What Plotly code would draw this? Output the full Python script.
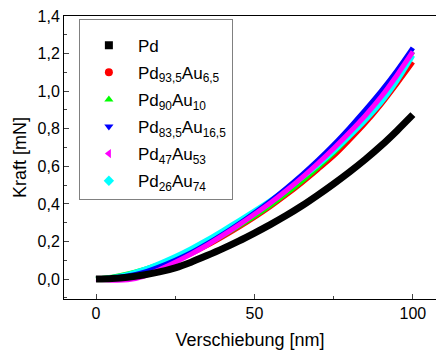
import plotly.graph_objects as go

x = [0, 5, 10, 15, 20, 25, 30, 35, 40, 45, 50, 55, 60, 65, 70, 75, 80, 85, 90, 95, 100]

pd_ = [0, 0.003, 0.01, 0.022, 0.038, 0.06, 0.09, 0.125, 0.162, 0.202, 0.245, 0.29, 0.338, 0.39, 0.447, 0.507, 0.57, 0.637, 0.71, 0.79, 0.875]
pd935 = [0, 0.006, 0.02, 0.042, 0.07, 0.1, 0.135, 0.178, 0.225, 0.275, 0.328, 0.385, 0.447, 0.513, 0.583, 0.655, 0.74, 0.83, 0.93, 1.04, 1.155]
pd90 = [0, 0.01, 0.027, 0.05, 0.078, 0.108, 0.143, 0.185, 0.232, 0.282, 0.335, 0.392, 0.455, 0.522, 0.595, 0.672, 0.76, 0.855, 0.96, 1.08, 1.21]
pd835 = [0, 0.004, 0.016, 0.036, 0.065, 0.1, 0.14, 0.187, 0.238, 0.293, 0.352, 0.415, 0.483, 0.555, 0.632, 0.715, 0.805, 0.9, 1.0, 1.11, 1.23]
pd47 = [0, -0.006, -0.004, 0.015, 0.05, 0.09, 0.133, 0.18, 0.232, 0.287, 0.345, 0.405, 0.47, 0.54, 0.615, 0.695, 0.78, 0.87, 0.97, 1.085, 1.21]
pd26 = [0, 0.008, 0.025, 0.05, 0.083, 0.12, 0.162, 0.208, 0.258, 0.31, 0.363, 0.418, 0.477, 0.54, 0.607, 0.68, 0.76, 0.845, 0.94, 1.055, 1.19]

names = ["Pd", "Pd<sub>93,5</sub>Au<sub>6,5</sub>", "Pd<sub>90</sub>Au<sub>10</sub>",
         "Pd<sub>83,5</sub>Au<sub>16,5</sub>", "Pd<sub>47</sub>Au<sub>53</sub>", "Pd<sub>26</sub>Au<sub>74</sub>"]
series = [pd_, pd935, pd90, pd835, pd47, pd26]
colors = ["#000000", "#ff0000", "#00ff00", "#0000ff", "#ff00ff", "#00ffff"]
symbols = ["square", "circle", "triangle-up", "triangle-down", "triangle-left", "diamond"]
widths = [7, 5, 5, 5, 5, 5]
draw_order = [1, 2, 5, 3, 4, 0]

fig = go.Figure()
for i in draw_order:
    fig.add_trace(go.Scatter(x=x, y=series[i], mode="lines",
                             line=dict(color=colors[i], width=widths[i], shape="spline", smoothing=0.8),
                             showlegend=False, hoverinfo="skip"))
for i in range(6):
    fig.add_trace(go.Scatter(x=[None], y=[None], mode="markers", name=names[i],
                             legendgroup=f"g{i}",
                             marker=dict(color=colors[i], symbol=symbols[i], size=8)))

fig.update_layout(
    width=436, height=350,
    margin=dict(l=64, r=0, t=16, b=51),
    plot_bgcolor="white", paper_bgcolor="white",
    separators=",.",
    font=dict(family="Liberation Sans, Arial, sans-serif", color="black", size=16),
    showlegend=True,
    legend=dict(x=0.04, y=0.99, xanchor="left", yanchor="top",
                bordercolor="#808080", borderwidth=1, bgcolor="white",
                font=dict(size=17), itemwidth=48, tracegroupgap=2,
                entrywidth=150,
                title=dict(text=" ", font=dict(size=6))),
)
fig.update_xaxes(range=[-10.1, 107.3], tickvals=[0, 50, 100], ticks="inside", ticklen=5,
                 showline=True, linecolor="black", linewidth=1, mirror=True,
                 showgrid=False, zeroline=False,
                 minor=dict(dtick=25, tick0=0, ticks="inside", ticklen=3, showgrid=False),
                 title=dict(text="Verschiebung [nm]", font=dict(size=18), standoff=14),
                 tickfont=dict(size=16))
fig.update_yaxes(range=[-0.106, 1.4], dtick=0.2, tick0=0, tickformat=".1f", ticks="inside", ticklen=5,
                 showline=True, linecolor="black", linewidth=1,
                 showgrid=False, zeroline=False,
                 minor=dict(dtick=0.1, tick0=0, ticks="inside", ticklen=3, showgrid=False),
                 title=dict(text="Kraft [mN]", font=dict(size=18), standoff=6),
                 tickfont=dict(size=16))

fig.write_html("out.html")
